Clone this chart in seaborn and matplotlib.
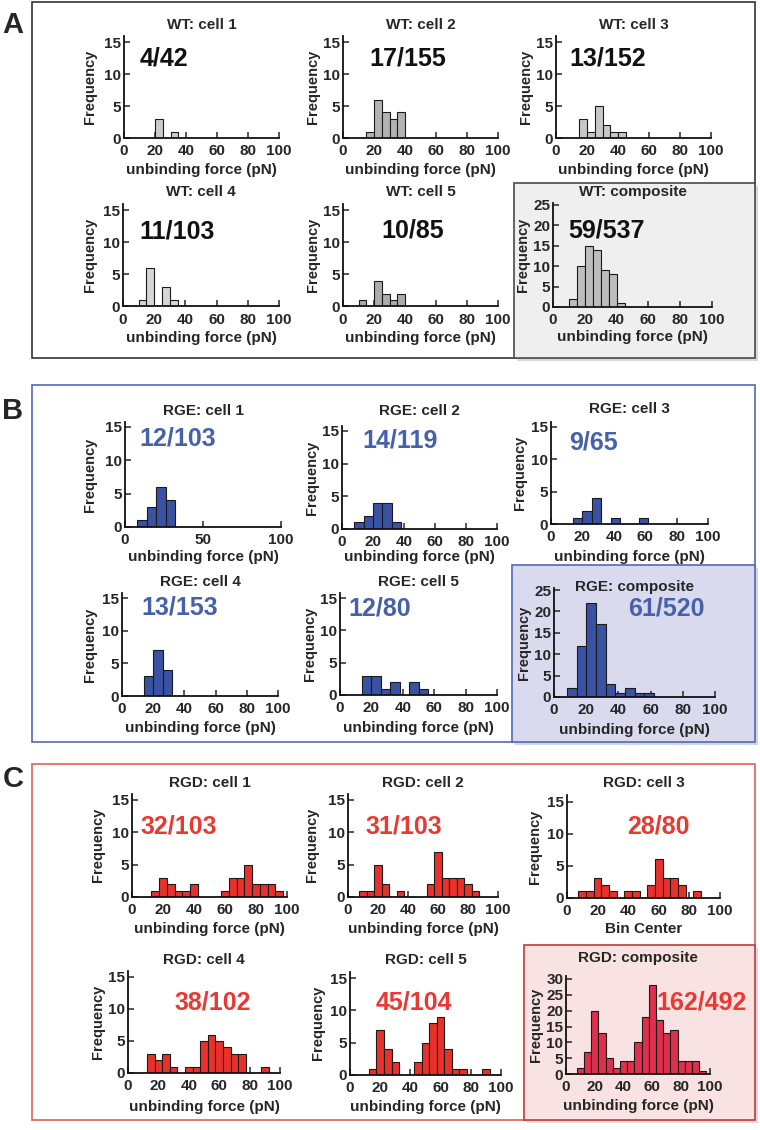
import numpy as np
import pandas as pd
import matplotlib
matplotlib.use("Agg")
import matplotlib.pyplot as plt
from matplotlib.patches import Rectangle
import seaborn as sns

# ---------------- data ----------------
wt_centers = [12.5, 17.5, 22.5, 27.5, 32.5, 37.5, 42.5]
wt_width = 5
wt_cell1 = [0, 0, 3, 0, 1, 0, 0]
wt_cell2 = [0, 1, 6, 4, 3, 4, 0]
wt_cell3 = [0, 3, 1, 5, 2, 1, 1]
wt_cell4 = [1, 6, 0, 3, 1, 0, 0]
wt_cell5 = [1, 0, 4, 2, 1, 2, 0]
wt_comp = [2, 10, 15, 14, 9, 8, 1]

rge_centers = [11, 17, 23, 29, 35, 41, 47, 53, 59]
rge_width = 6
rge_cell1 = [1, 3, 6, 4, 0, 0, 0, 0, 0]
rge_cell2 = [1, 2, 4, 4, 1, 0, 0, 0, 0]
rge_cell3 = [0, 1, 2, 4, 0, 1, 0, 0, 1]
rge_cell4 = [0, 3, 7, 4, 0, 0, 0, 0, 0]
rge_cell5 = [0, 3, 3, 1, 2, 0, 2, 1, 0]
rge_comp = [2, 12, 22, 17, 3, 1, 2, 1, 1]

rgd_centers = [10, 15, 20, 25, 30, 35, 40, 45, 50, 55, 60, 65, 70, 75, 80, 85, 90, 95]
rgd_width = 5
rgd_cell1 = [0, 1, 3, 2, 1, 1, 2, 0, 0, 0, 1, 3, 3, 5, 2, 2, 2, 1]
rgd_cell2 = [1, 1, 5, 2, 0, 1, 0, 0, 0, 2, 7, 3, 3, 3, 2, 1, 0, 0]
rgd_cell3 = [1, 1, 3, 2, 1, 0, 1, 1, 0, 2, 6, 3, 3, 2, 0, 1, 0, 0]
rgd_cell4 = [0, 3, 2, 3, 1, 0, 1, 1, 5, 6, 5, 4, 3, 3, 0, 0, 1, 0]
rgd_cell5 = [0, 1, 7, 4, 2, 0, 0, 2, 5, 8, 9, 4, 1, 1, 0, 0, 1, 0]
rgd_comp = [2, 7, 20, 13, 5, 2, 4, 4, 10, 18, 28, 17, 13, 14, 4, 4, 4, 1]

wt_titles = ["WT: cell 1", "WT: cell 2", "WT: cell 3", "WT: cell 4", "WT: cell 5", "WT: composite"]
wt_ratios = ["4/42", "17/155", "13/152", "11/103", "10/85", "59/537"]
rge_titles = ["RGE: cell 1", "RGE: cell 2", "RGE: cell 3", "RGE: cell 4", "RGE: cell 5", "RGE: composite"]
rge_ratios = ["12/103", "14/119", "9/65", "13/153", "12/80", "61/520"]
rgd_titles = ["RGD: cell 1", "RGD: cell 2", "RGD: cell 3", "RGD: cell 4", "RGD: cell 5", "RGD: composite"]
rgd_ratios = ["32/103", "31/103", "28/80", "38/102", "45/104", "162/492"]

x_ticks = [0, 20, 40, 60, 80, 100]
x_ticks_coarse = [0, 50, 100]
y_ticks_cell = [0, 5, 10, 15]
y_ticks_comp25 = [0, 5, 10, 15, 20, 25]
y_ticks_comp30 = [0, 5, 10, 15, 20, 25, 30]
x_label = "unbinding force (pN)"
x_label_alt = "Bin Center"
y_label = "Frequency"

# ---------------- style ----------------
sns.set_style("ticks")
plt.rcParams["font.family"] = ["Liberation Sans", "DejaVu Sans"]
plt.rcParams["font.weight"] = "bold"

W, H = 760, 1130
fig = plt.figure(figsize=(7.6, 11.3), dpi=100)
fig.patch.set_facecolor("white")


def box(x0, y0, x1, y1, **kw):
    r = Rectangle((x0 / W, 1 - y1 / H), (x1 - x0) / W, (y1 - y0) / H,
                  transform=fig.transFigure, **kw)
    fig.patches.append(r)


# panel boxes
box(32, 2, 755, 358, fill=False, edgecolor="#333333", lw=1.2, zorder=-3)
box(517, 186, 758, 361, facecolor="#d8d8d8", edgecolor="none", zorder=-2.5)
box(514, 183, 755, 358, facecolor="#efefef", edgecolor="#4a4a4a", lw=1.2, zorder=-2)

box(32, 385, 755, 742, fill=False, edgecolor="#5468b4", lw=1.2, zorder=-3)
box(515, 568, 758, 745, facecolor="#d4d4e0", edgecolor="none", zorder=-2.5)
box(512, 565, 755, 742, facecolor="#dadaee", edgecolor="#5468b4", lw=1.2, zorder=-2)

box(32, 764, 755, 1120, fill=False, edgecolor="#e0605a", lw=1.2, zorder=-3)
box(527, 948, 758, 1123, facecolor="#e4d6d6", edgecolor="none", zorder=-2.5)
box(524, 945, 755, 1120, facecolor="#f8e2e2", edgecolor="#b5403c", lw=1.2, zorder=-2)

for letter, (lx, ly) in zip("ABC", [(13, 25), (13, 411), (13, 779)]):
    fig.text(lx / W, 1 - ly / H, letter, fontsize=21, fontweight="bold",
             ha="center", va="center")

# layout: x0, x1, y0(px of 0), y of max tick, max tick, ylim top,
# title y, xlabel y, ylabel offset, annotation x, annotation y
layout = [
    # A
    (124, 279, 138, 42, 15, 16, 25, 170, 34, 164, 58),
    (343, 498, 138, 42, 15, 16, 25, 170, 30, 408, 58),
    (556, 711, 138, 42, 15, 16, 25, 170, 30, 608, 58),
    (123, 279, 306.5, 210, 15, 16, 192, 338, 33, 177, 232),
    (343, 498, 306.5, 210, 15, 16, 192, 338, 30, 413, 231),
    (553, 712, 307, 205, 25, 25.4, 192, 337, 30, 607, 231),
    # B
    (125, 281, 527, 427, 15, 15.7, 411, 557, 35, 178, 439),
    (342, 497, 529, 431, 15, 15.7, 411, 557, 30, 400, 441),
    (551, 708, 524, 427, 15, 15.7, 409, 557, 31, 593, 443),
    (122, 278, 696, 598, 15, 15.7, 582, 728, 32, 180, 607),
    (340, 497, 695, 598, 15, 15.7, 582, 728, 30, 380, 608),
    (554, 715, 697, 590, 25, 25.4, 587, 730, 30, 666, 609),
    # C
    (132, 287, 897, 800, 15, 16, 783, 929, 34, 179, 826),
    (348, 498, 897, 800, 15, 16, 783, 929, 36, 404, 826),
    (567, 720, 897.5, 801.7, 15, 16, 783, 929, 32, 658, 826),
    (128, 280, 1073, 977, 15, 16, 960, 1107, 30, 213, 1002),
    (350, 501, 1075, 978, 15, 16, 960, 1107, 32, 414, 1002),
    (566, 710, 1074, 979, 30, 31, 958, 1106, 30, 702, 1002),
]

groups = [
    (wt_centers, wt_width, [wt_cell1, wt_cell2, wt_cell3, wt_cell4, wt_cell5, wt_comp],
     ["#cccccc", "#b3b3b3", "#c8c8c8", "#d6d6d6", "#acacac", "#bdbdbd"],
     wt_titles, wt_ratios, "#111111"),
    (rge_centers, rge_width, [rge_cell1, rge_cell2, rge_cell3, rge_cell4, rge_cell5, rge_comp],
     ["#3a52a3"] * 6, rge_titles, rge_ratios, "#4660ac"),
    (rgd_centers, rgd_width, [rgd_cell1, rgd_cell2, rgd_cell3, rgd_cell4, rgd_cell5, rgd_comp],
     ["#e8312b"] * 5 + ["#df2f4c"], rgd_titles, rgd_ratios, "#e83a33"),
]

idx = 0
for gi, (centers, width, series, colors, titles, ratios, tcol) in enumerate(groups):
    edges = [c - width / 2 for c in centers] + [centers[-1] + width / 2]
    for si, counts in enumerate(series):
        (x0, x1, y0, ymt, mt, ytop, ty, xly, ylo, ax_x, ax_y) = layout[idx]
        idx += 1
        unit = (y0 - ymt) / mt
        top_px = y0 - ytop * unit
        h_px = y0 - top_px
        w_px = x1 - x0
        ax = fig.add_axes([x0 / W, 1 - y0 / H, w_px / W, h_px / H])
        ax.set_facecolor("none")
        df = pd.DataFrame({"force": centers, "count": counts})
        sns.histplot(data=df, x="force", weights="count", bins=edges, ax=ax,
                     color=colors[si], edgecolor="#1a1a1a", linewidth=0.8, alpha=1)
        ax.set_xlim(0, 100)
        ax.set_ylim(0, ytop)
        if gi == 1 and si == 0:
            ax.set_xticks(x_ticks_coarse)
        else:
            ax.set_xticks(x_ticks)
        if si < 5:
            ax.set_yticks(y_ticks_cell)
        elif mt == 30:
            ax.set_yticks(y_ticks_comp30)
        else:
            ax.set_yticks(y_ticks_comp25)
        ax.tick_params(direction="in", length=4, width=1.1, labelsize=11)
        ax.tick_params(axis="x", pad=4.5)
        ax.tick_params(axis="y", pad=2.0)
        for lab in ax.get_xticklabels() + ax.get_yticklabels():
            lab.set_fontweight("bold")
        sns.despine(ax=ax)
        for sp in ("left", "bottom"):
            ax.spines[sp].set_linewidth(1.3)
            ax.spines[sp].set_color("#111111")
        xl = x_label_alt if (gi == 2 and si == 2) else x_label
        ax.set_xlabel(xl, fontsize=11, fontweight="bold", va="center")
        ax.xaxis.set_label_coords(0.5, (y0 - xly) / h_px)
        ax.set_ylabel(y_label, fontsize=10.5, fontweight="bold", va="center")
        ax.yaxis.set_label_coords(-ylo / w_px, 0.5)
        ax.set_title(titles[si], fontsize=11, fontweight="bold", va="center",
                     y=(y0 - ty) / h_px, pad=0)
        ax.text((ax_x - x0) / w_px, (y0 - ax_y) / h_px, ratios[si], transform=ax.transAxes,
                ha="center", va="center", fontsize=18, fontweight="bold", color=tcol,
                clip_on=False)

fig.savefig("out.png", dpi=100)
